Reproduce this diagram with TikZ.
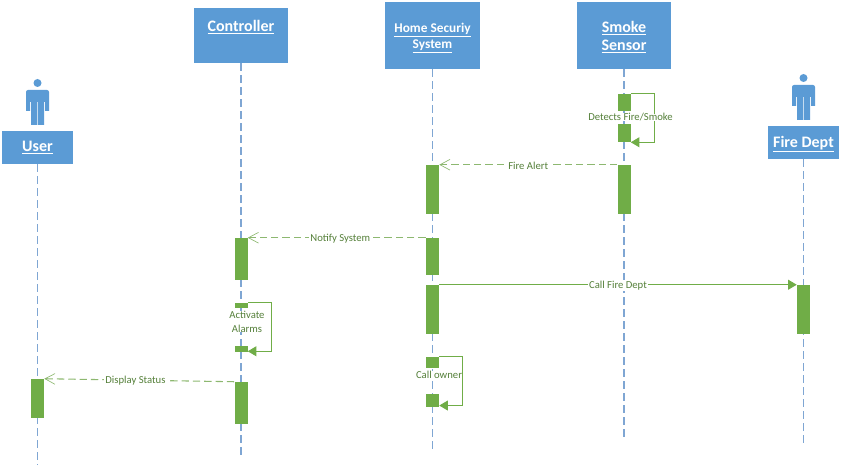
\documentclass[tikz,border=0pt]{standalone}
\usepackage{fontspec}
\setmainfont{Carlito}
\usetikzlibrary{arrows.meta}
\definecolor{headblue}{HTML}{5B9BD5}
\definecolor{lineblue}{HTML}{7FA6D3}
\definecolor{actgreen}{HTML}{70AD47}
\definecolor{msggreen}{HTML}{8DB870}
\definecolor{textgreen}{HTML}{55803A}
\newcommand{\headstrut}{\rule{0pt}{11pt}}
\tikzset{
    head/.style 2 args={rectangle, fill=headblue, text=white, align=center, inner sep=0pt,
        minimum width=#1*0.75pt, minimum height=#2*0.75pt, font=\fontsize{12}{14}\selectfont\bfseries},
    lifeline/.style={lineblue, line width=0.8pt, dash pattern=on 5.5pt off 3.5pt},
    act/.style={rectangle, fill=actgreen, inner sep=0pt, minimum width=9.75pt, minimum height=#1*0.75pt},
    reply/.style={msggreen, line width=0.8pt, dash pattern=on 5.5pt off 3pt, -{Straight Barb[length=7.5pt, width=8pt, line width=0.5pt]}},
    call/.style={actgreen, line width=0.7pt, -{Triangle[length=6.5pt, width=7.5pt]}},
    lbl/.style={fill=white, text=textgreen, inner sep=1pt, font=\fontsize{8}{10.5}\selectfont, align=center},
    person/.pic={
        \fill[headblue] (0,0) circle (4);
        \fill[headblue] (-11.5,11) [rounded corners=1.5pt] -- (-11.5,7) -- (11.5,7) -- (11.5,11) [sharp corners]
            -- (11.5,28) -- (7.5,28) -- (7.5,19) -- (6.5,19) -- (6.5,42) -- (0.4,42) -- (0.4,19) -- (-0.4,19)
            -- (-0.4,42) -- (-6.5,42) -- (-6.5,19) -- (-7.5,19) -- (-7.5,28) -- (-11.5,28) -- cycle;
    }
}
\begin{document}
\begin{tikzpicture}[x=0.75pt, y=-0.75pt]
    \useasboundingbox (0,0) rectangle (843,467);

    % Actors
    \pic at (37.5,83) {person};
    \pic at (803.5,78) {person};

    % Heads
    \node (user) [head={71}{33}] at (37.5,147.5) {\underline{User}};
    \node (ctrl) [head={94}{55}] at (241,35.5) {\underline{Controller}\\\mbox{}};
    \node (home) [head={95}{67}, font=\fontsize{10}{12}\selectfont\bfseries] at (432.5,35.5) {\headstrut\underline{Home Securiy}\\\underline{System}};
    \node (smoke) [head={94}{67}] at (624,35.5) {\headstrut\underline{Smoke}\\\underline{Sensor}};
    \node (fire) [head={71}{33}] at (803.5,142.5) {\headstrut\underline{Fire Dept}};

    % Lifelines
    \coordinate (userend) at (37.5,465);
    \coordinate (ctrlend) at (241,455);
    \coordinate (homeend) at (432.5,450);
    \coordinate (smokeend) at (624,440);
    \coordinate (fireend) at (803.5,443);
    \draw[lifeline] (user) -- (userend);
    \draw[lifeline] (ctrl) -- (ctrlend);
    \draw[lifeline] (home) -- (homeend);
    \draw[lifeline] (smoke) -- (smokeend);
    \draw[lifeline] (fire) -- (fireend);

    % Activations
    \node (s1) [act=17] at (624,102.5) {};
    \node (s2) [act=18] at (624,133) {};
    \node (s3) [act=49] at (624,189.5) {};
    \node (h1) [act=49] at (432.5,189.5) {};
    \node (h2) [act=37] at (432.5,256.5) {};
    \node (h3) [act=49] at (432.5,309.5) {};
    \node (h4) [act=11] at (432.5,362.5) {};
    \node (h5) [act=13] at (432.5,400.5) {};
    \node (c1) [act=42] at (241,259) {};
    \node (c2) [act=5] at (241,305.5) {};
    \node (c3) [act=6] at (241,349) {};
    \node (c4) [act=42] at (241,403) {};
    \node (u1) [act=39] at (37.5,398.5) {};
    \node (f1) [act=49] at (803.5,309.5) {};

    % Messages
    \draw[reply] (s3.north west) -- (h1.north east) node[midway, lbl, yshift=-0.6pt] (firealert) {Fire Alert};
    \draw[reply] (h2.north west) -- (c1.north east) node[pos=0.48, lbl, yshift=-0.6pt] (notify) {Notify System};
    \draw[call] (h3.north east) -- (f1.north west) node[midway, lbl, yshift=-0.6pt] (callfire) {Call Fire Dept};
    \draw[reply] (c4.north west) -- (u1.north east) node[pos=0.52, lbl, yshift=-0.6pt] (status) {Display Status};

    % Self calls
    \draw[call] (s1.north east) -- ++(24,0) |- (s2.south east);
    \draw[call] (c2.north east) -- ++(24,0) |- ([yshift=0.75pt]c3.south east);
    \draw[call] (h4.north east) -- ++(23,0) |- ([yshift=1.3pt]h5.south east);
    \node (detects) [lbl, inner sep=0pt] at (630.5,117.5) {Detects Fire/Smoke};
    \node (alarms) [lbl, inner sep=0pt] at (247,321.5) {Activate\\Alarms};
    \node (owner) [lbl, inner sep=0pt] at (439,374.5) {Call owner};
\end{tikzpicture}
\end{document}
